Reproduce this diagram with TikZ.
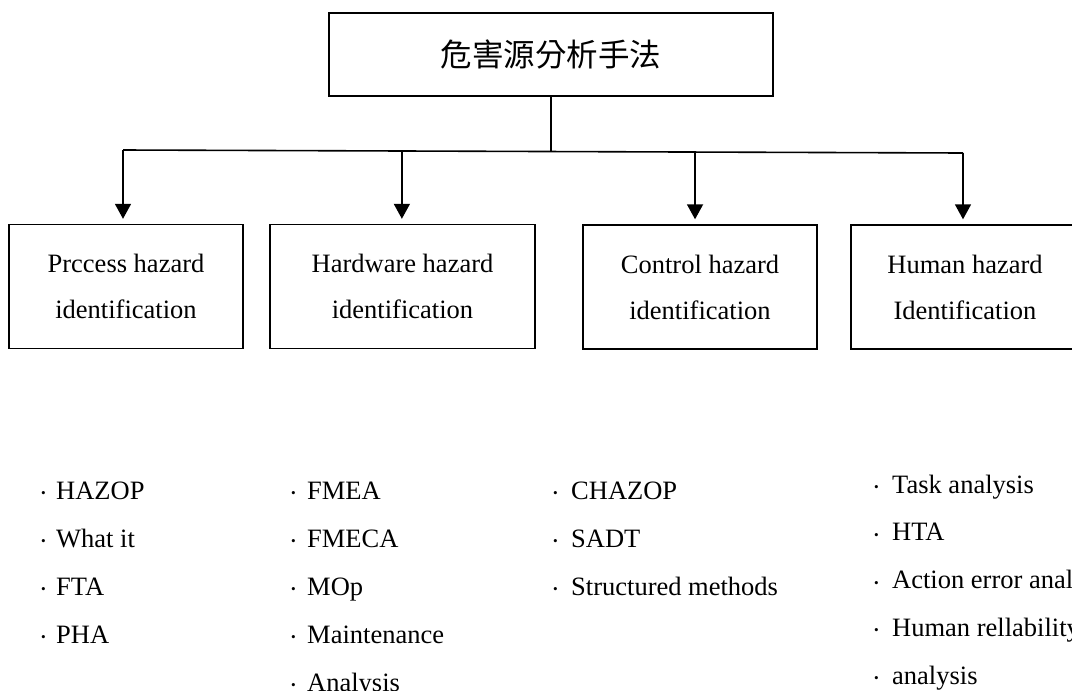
\documentclass[tikz,border=0pt]{standalone}
\usepackage{fontspec}
\usepackage{graphicx}
\setmainfont{Liberation Serif}
\newfontfamily\cjk{Noto Sans CJK TC}
\usetikzlibrary{arrows.meta,calc}
% small round list marker followed by a fixed gap
\newcommand\mydot[1]{\makebox[#1][l]{\raisebox{0.06em}{\scalebox{0.5}{•}}}}

\begin{document}
\begin{tikzpicture}[x=1pt,y=-1pt,
  box/.style={draw,line width=1.4pt,inner sep=0pt,align=center,
    font=\fontsize{26.5}{46}\selectfont},
  link/.style={line width=1.6pt},
  arr/.style={link,-{Triangle[length=15pt,width=16pt]},shorten >=5pt},
  item/.style={anchor=base west,inner sep=0pt,font=\fontsize{26.5}{32}\selectfont}]
  \useasboundingbox (0,0) rectangle (1072,691);
  \clip (0,0) rectangle (1072,691);

  % root
  \node[box,minimum width=444,minimum height=83] (root) at (551,54.5)
    {\raisebox{-5pt}{\cjk\fontsize{31.5}{31.5}\selectfont 危害源分析手法}};

  % branches
  \node[box,minimum width=234,minimum height=124] (proc) at (126,286.5)
    {Prccess hazard\\identification};
  \node[box,minimum width=265,minimum height=124] (hard) at (402.5,286.5)
    {Hardware hazard\\identification};
  \node[box,minimum width=234,minimum height=124] (ctrl) at (700,287)
    {Control hazard\\identification};
  \node[box,minimum width=228,minimum height=124] (hum) at (965,287)
    {Human hazard\\Identification};

  % distribution bar
  \coordinate (hl) at (123,150);
  \coordinate (hr) at (963,153);
  \coordinate (j0) at ($(hl)!0.5092!(hr)$);
  \coordinate (j2) at ($(hl)!0.332!(hr)$);
  \coordinate (j3) at ($(hl)!0.681!(hr)$);

  \draw[link] (root.south -| j0) -- (j0);
  \draw[link] (hl) -- (hr);
  \draw[arr] (hl) -- (hl |- proc.north);
  \draw[arr] (j2) -- (j2 |- hard.north);
  \draw[arr] (j3) -- (j3 |- ctrl.north);
  \draw[arr] (hr) -- (hr |- hum.north);

  % method lists
  \foreach \t [count=\i from 0] in {HAZOP,What it,FTA,PHA}
    \node[item] (pa\i) at (41,499+48*\i) {\mydot{15pt}\t};
  \foreach \t [count=\i from 0] in {FMEA,FMECA,MOp,Maintenance,Analysis}
    \node[item] (ha\i) at (291,499+48*\i) {\mydot{16pt}\t};
  \foreach \t [count=\i from 0] in {CHAZOP,SADT,Structured methods}
    \node[item] (ca\i) at (553,499+48*\i) {\mydot{18pt}\t};
  \foreach \t [count=\i from 0] in {Task analysis,HTA,Action error analysis,Human rellability,analysis}
    \node[item] (hu\i) at (874,493+47.8*\i) {\mydot{18pt}\t};
\end{tikzpicture}
\end{document}
